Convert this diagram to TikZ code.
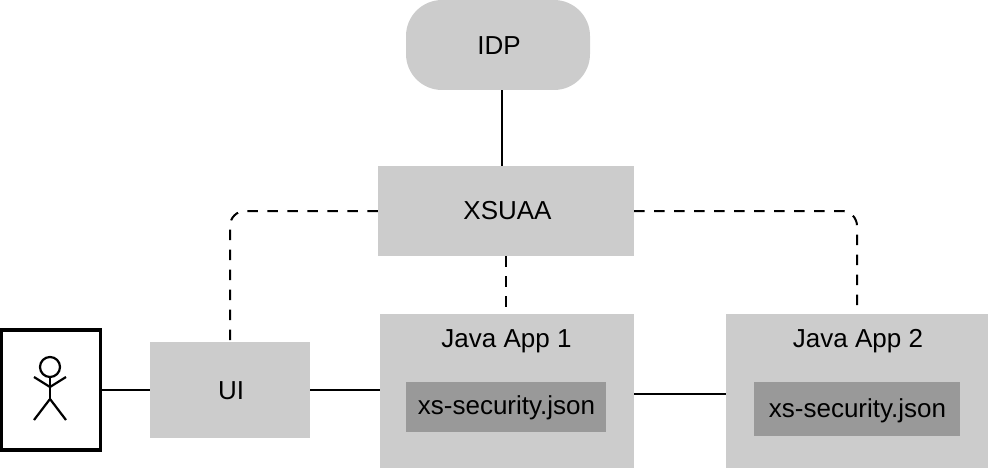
\documentclass[tikz,border=0pt]{standalone}
\usepackage{fontspec}
\usepackage{xcolor}
\setmainfont{Liberation Sans}
\definecolor{boxgray}{HTML}{CCCCCC}
\definecolor{filegray}{HTML}{999999}
\tikzset{
  block/.style={fill=boxgray,inner sep=0pt},
  file/.style={fill=filegray,inner sep=0pt},
  title/.style={inner sep=0pt},
  link/.style={line width=2pt},
  trust/.style={line width=2pt,dash pattern=on 10.5pt off 9.5pt,rounded corners=15pt},
  figure/.style={line width=2.2pt}
}

\begin{document}
\begin{tikzpicture}[x=1pt,y=-1pt,font=\fontsize{26}{30}\selectfont]
  \useasboundingbox (0,0) rectangle (988,468);
  \node[block,rounded corners=36pt,minimum width=184pt,minimum height=90pt] (idp) at (498,45) {};
  \node[title] (idptext) at (499,46) {IDP};
  \node[block,minimum width=256pt,minimum height=90pt] (xsuaa) at (506,211) {};
  \node[title] (xsuaatext) at (507.5,211) {XSUAA};
  \node[block,minimum width=160pt,minimum height=96pt] (ui) at (230,390) {};
  \node[title] (uitext) at (231,391) {UI};
  \node[block,minimum width=254pt,minimum height=154pt] (app1) at (507,391) {};
  \node[block,minimum width=262pt,minimum height=154pt] (app2) at (857,391) {};
  \node[title] (title1) at (506.5,341) {Java App 1};
  \node[title] (title2) at (858,341) {Java App 2};
  \node[file,minimum width=200pt,minimum height=50pt] (json1) at (506,407) {};
  \node[title] (text1) at (506.5,408) {xs-security.json};
  \node[file,minimum width=206pt,minimum height=54pt] (json2) at (857,409) {};
  \node[title] (text2) at (857.5,411) {xs-security.json};
  \node[draw,line width=3.5pt,minimum width=99.5pt,minimum height=120pt,inner sep=0pt] (user) at (50.75,390) {};
  % stick figure
  \draw[figure] (50,367) circle (10);
  \draw[figure] (50,377)--(50,399);
  \draw[figure] (34,377)--(50,387)--(66,377);
  \draw[figure] (34,420)--(50,399)--(66,420);
  % connectors
  \coordinate (idplink) at (502,128);
  \coordinate (applink) at (680,394);
  \draw[link] (idp.south -| idplink)--(xsuaa.north -| idplink);
  \draw[link] (user.east)--(ui.west);
  \draw[link] (ui.east)--(app1.west |- ui.east);
  \draw[link] (app1.east |- applink)--(app2.west |- applink);
  \draw[trust] (xsuaa.west)-|(ui.north);
  \draw[trust] (xsuaa.east)-|(app2.north);
  \draw[trust] (xsuaa.south)--(xsuaa.south |- app1.north);
\end{tikzpicture}
\end{document}
